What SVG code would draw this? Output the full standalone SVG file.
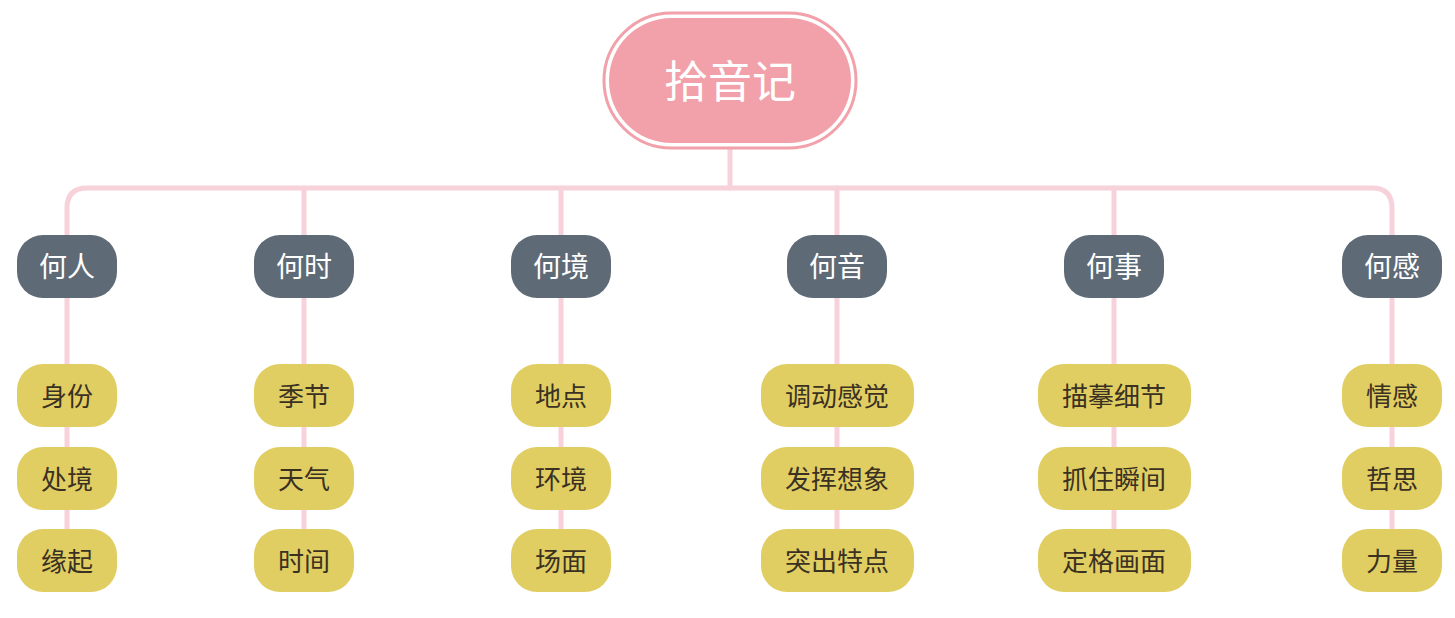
<svg xmlns="http://www.w3.org/2000/svg" width="1455" height="618" viewBox="0 0 1455 618">
<style>
.c{fill:none;stroke:#F7D2DB;stroke-width:5;stroke-linecap:round}
.l1 rect{fill:#5E6A75}
.l1 text{fill:#FFFFFF;font-size:28px}
.lf rect{fill:#E1CE62}
.lf text{fill:#3A3122;font-size:26px}
text{font-family:"Noto Sans CJK SC","Noto Sans",sans-serif;text-anchor:middle;dominant-baseline:central}
</style>
<rect width="1455" height="618" fill="#FFFFFF"/>
<g id="connectors">
<path class="c" d="M730 148 V188"/>
<path class="c" d="M67 235 V208 Q67 188 87 188 H1372 Q1392 188 1392 208 V235"/>
<path class="c" d="M304 188 V235 M561 188 V235 M837 188 V235 M1114 188 V235"/>
<path class="c" d="M67 298 V560 M304 298 V560 M561 298 V560 M837 298 V560 M1114 298 V560 M1392 298 V560"/>
</g>
<g id="root">
<rect x="604" y="13" width="252" height="135" rx="67.5" fill="#FFFFFF" stroke="#F2A0A9" stroke-width="3"/>
<rect x="609" y="18" width="242" height="125" rx="62.5" fill="#F2A0A9"/>
<text x="730" y="79" fill="#FFFFFF" font-size="44">拾音记</text>
</g>
<g id="n-heren" class="l1"><rect x="17" y="235" width="100" height="63" rx="26"/><text x="67" y="265">何人</text></g>
<g id="n-heshi" class="l1"><rect x="254" y="235" width="100" height="63" rx="26"/><text x="304" y="265">何时</text></g>
<g id="n-hejing" class="l1"><rect x="511" y="235" width="100" height="63" rx="26"/><text x="561" y="265">何境</text></g>
<g id="n-heyin" class="l1"><rect x="787" y="235" width="100" height="63" rx="26"/><text x="837" y="265">何音</text></g>
<g id="n-heshi2" class="l1"><rect x="1064" y="235" width="100" height="63" rx="26"/><text x="1114" y="265">何事</text></g>
<g id="n-hegan" class="l1"><rect x="1342" y="235" width="100" height="63" rx="26"/><text x="1392" y="265">何感</text></g>

<g id="l-shenfen" class="lf"><rect x="17" y="364" width="100" height="63" rx="26"/><text x="67" y="394">身份</text></g>
<g id="l-chujing" class="lf"><rect x="17" y="447" width="100" height="63" rx="26"/><text x="67" y="477">处境</text></g>
<g id="l-yuanqi" class="lf"><rect x="17" y="529" width="100" height="63" rx="26"/><text x="67" y="559">缘起</text></g>

<g id="l-jijie" class="lf"><rect x="254" y="364" width="100" height="63" rx="26"/><text x="304" y="394">季节</text></g>
<g id="l-tianqi" class="lf"><rect x="254" y="447" width="100" height="63" rx="26"/><text x="304" y="477">天气</text></g>
<g id="l-shijian" class="lf"><rect x="254" y="529" width="100" height="63" rx="26"/><text x="304" y="559">时间</text></g>

<g id="l-didian" class="lf"><rect x="511" y="364" width="100" height="63" rx="26"/><text x="561" y="394">地点</text></g>
<g id="l-huanjing" class="lf"><rect x="511" y="447" width="100" height="63" rx="26"/><text x="561" y="477">环境</text></g>
<g id="l-changmian" class="lf"><rect x="511" y="529" width="100" height="63" rx="26"/><text x="561" y="559">场面</text></g>

<g id="l-tiaodong" class="lf"><rect x="761" y="364" width="153" height="63" rx="26"/><text x="837" y="394">调动感觉</text></g>
<g id="l-fahui" class="lf"><rect x="761" y="447" width="153" height="63" rx="26"/><text x="837" y="477">发挥想象</text></g>
<g id="l-tuchu" class="lf"><rect x="761" y="529" width="153" height="63" rx="26"/><text x="837" y="559">突出特点</text></g>

<g id="l-miaomo" class="lf"><rect x="1038" y="364" width="153" height="63" rx="26"/><text x="1114" y="394">描摹细节</text></g>
<g id="l-zhuazhu" class="lf"><rect x="1038" y="447" width="153" height="63" rx="26"/><text x="1114" y="477">抓住瞬间</text></g>
<g id="l-dingge" class="lf"><rect x="1038" y="529" width="153" height="63" rx="26"/><text x="1114" y="559">定格画面</text></g>

<g id="l-qinggan" class="lf"><rect x="1342" y="364" width="100" height="63" rx="26"/><text x="1392" y="394">情感</text></g>
<g id="l-zhesi" class="lf"><rect x="1342" y="447" width="100" height="63" rx="26"/><text x="1392" y="477">哲思</text></g>
<g id="l-liliang" class="lf"><rect x="1342" y="529" width="100" height="63" rx="26"/><text x="1392" y="559">力量</text></g>
</svg>
